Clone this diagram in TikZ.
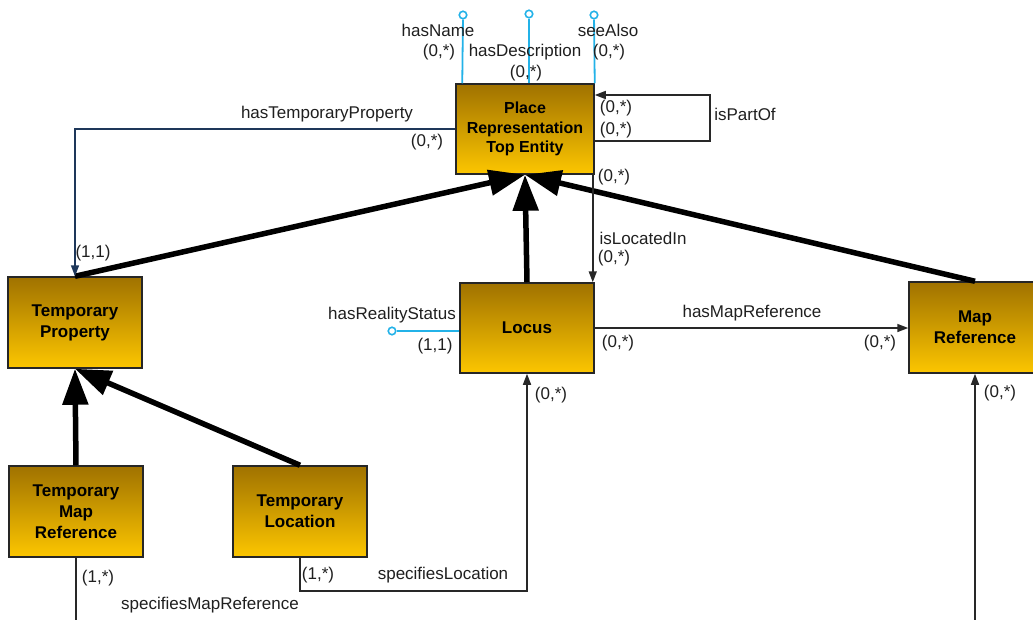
\documentclass[tikz,border=0pt]{standalone}
\usepackage{fontspec}
\setmainfont{Liberation Sans}
\usetikzlibrary{arrows.meta,calc}
\definecolor{gtop}{RGB}{160,114,0}
\definecolor{gbot}{RGB}{252,198,0}
\definecolor{attrblue}{RGB}{35,178,232}
\definecolor{navyline}{RGB}{30,55,90}
\definecolor{connline}{RGB}{40,40,40}
\begin{document}
\begin{tikzpicture}[x=1pt,y=-1pt,
  entity/.style={draw=black!85, line width=1.5pt, top color=gtop, bottom color=gbot,
    minimum width=134pt, minimum height=91pt, inner sep=0pt, align=center,
    font=\bfseries\fontsize{17}{21}\selectfont},
  lbl/.style={inner sep=0pt, font=\fontsize{17}{20}\selectfont, text=black!88},
  isa/.style={line width=5.5pt, -{Triangle[length=36pt,width=25pt]}},
  rel/.style={draw=connline, line width=1.6pt, -{Triangle[length=11pt,width=8pt]}},
  plainrel/.style={draw=connline, line width=1.6pt},
  attr/.style={draw=attrblue, line width=1.8pt},
  attrend/.style={circle, draw=attrblue, line width=1.6pt, fill=white,
    minimum size=7.5pt, inner sep=0pt},
]
\useasboundingbox (0,0) rectangle (1033,619);
\clip (0,0) rectangle (1033,619);

% entities
\node[entity, minimum width=138pt, minimum height=90pt,
      font=\bfseries\fontsize{16}{19.5}\selectfont] (place) at (525,129)
      {Place\\Representation\\Top Entity};
\node[entity] (tprop)  at (75,322.5)  {Temporary\\Property};
\node[entity, minimum height=90pt] (locus) at (527,328) {Locus};
\node[entity, minimum width=132pt] (mapref) at (975,327.5) {Map\\Reference};
\node[entity] (tmap)   at (76,511.5)  {Temporary\\Map\\Reference};
\node[entity] (tloc)   at (300,511.5) {Temporary\\Location};

% free ends running off the lower edge
\coordinate (mapin)  at (975,650);
\coordinate (tmapout) at (76,650);

% specialisation links
\draw[isa] (tprop.north) -- (place.south);
\draw[isa] (mapref.north) -- (place.south);
\draw[isa] (locus.north) -- (place.south);
\draw[isa] (tloc.north) -- (tprop.south);
\draw[isa] (tmap.north) -- (tprop.south);

% relationships
\draw[rel, draw=navyline, -{Triangle[length=11pt,width=8pt,fill=navyline]}]
  (place.west) -| (tprop.north);
\draw[rel] ($(place.east)+(0,12)$) -- ++(115,0) |- ($(place.east)+(0,-34)$);
\draw[rel] ($(place.south east)+(-2,0)$) -- ($(locus.north east)+(-2,0)$);
\draw[rel] (locus.east) -- (locus.east -| mapref.west);
\draw[rel] (tloc.south) -- ++(0,33) -| (locus.south);
\draw[rel] (mapin) -- (mapref.south);
\draw[plainrel] (tmap.south) -- (tmapout);

% attributes
\node[attrend] (aname) at (463,15) {};
\node[attrend] (adesc) at (529,14) {};
\node[attrend] (asee)  at (594,15) {};
\node[attrend] (areal) at (392,331) {};
\draw[attr] ($(place.north west)+(7,0)$) -- (aname);
\draw[attr] ($(place.north)+(4,0)$) -- (adesc);
\draw[attr] (place.north east) -- (asee);
\draw[attr] ($(locus.west)+(0,3)$) -- (areal);

% labels
\node[lbl] (lname)  at (438,30) {hasName};
\node[lbl] (cname)  at (439,52) {(0,*)};
\node[lbl] (ldesc)  at (525,52) {hasDescription};
\node[lbl] (cdesc)  at (526,73) {(0,*)};
\node[lbl] (lsee)   at (608,30) {seeAlso};
\node[lbl] (csee)   at (609,52) {(0,*)};
\node[lbl] (ltp)    at (327,114) {hasTemporaryProperty};
\node[lbl] (ctp1)   at (427,142) {(0,*)};
\node[lbl] (ctp2)   at (93,253) {(1,1)};
\node[lbl] (lpart)  at (745,114) {isPartOf};
\node[lbl] (cpart1) at (616,108) {(0,*)};
\node[lbl] (cpart2) at (616,130) {(0,*)};
\node[lbl] (cloc1)  at (614,177) {(0,*)};
\node[lbl] (lloc)   at (643,238) {isLocatedIn};
\node[lbl] (cloc2)  at (614,258) {(0,*)};
\node[lbl] (lreal)  at (392,315) {hasRealityStatus};
\node[lbl] (creal)  at (435,346) {(1,1)};
\node[lbl] (lmap)   at (752,313) {hasMapReference};
\node[lbl] (cmap1)  at (618,343) {(0,*)};
\node[lbl] (cmap2)  at (880,343) {(0,*)};
\node[lbl] (clocus) at (551,395) {(0,*)};
\node[lbl] (cmapin) at (1000,393) {(0,*)};
\node[lbl] (ctloc)  at (318,575) {(1,*)};
\node[lbl] (lsloc)  at (443,575) {specifiesLocation};
\node[lbl] (ctmap)  at (98,578) {(1,*)};
\node[lbl, anchor=west] (lsmap) at (121,605) {specifiesMapReference};
\end{tikzpicture}
\end{document}
